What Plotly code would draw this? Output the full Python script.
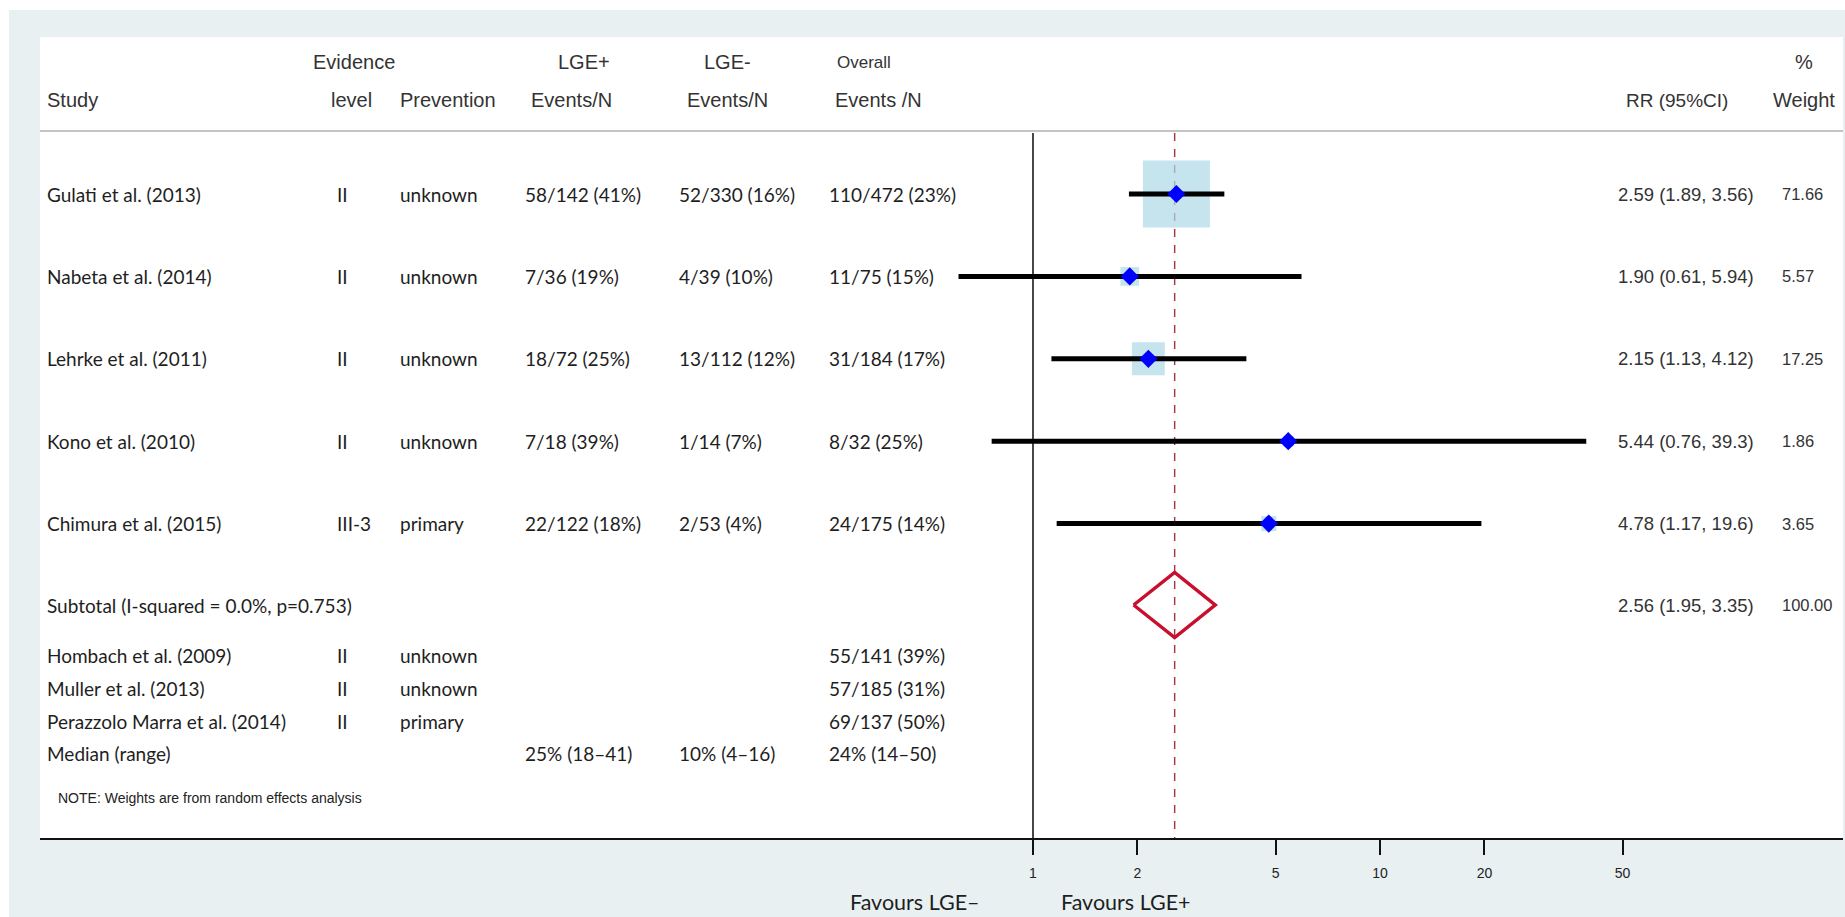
import plotly.graph_objects as go
import math

# ---------------- data ----------------
studies = ["Gulati et al. (2013)", "Nabeta et al. (2014)", "Lehrke et al. (2011)",
           "Kono et al. (2010)", "Chimura et al. (2015)"]
evidence = ["II", "II", "II", "II", "III-3"]
prevention = ["unknown", "unknown", "unknown", "unknown", "primary"]
lge_pos = ["58/142 (41%)", "7/36 (19%)", "18/72 (25%)", "7/18 (39%)", "22/122 (18%)"]
lge_neg = ["52/330 (16%)", "4/39 (10%)", "13/112 (12%)", "1/14 (7%)", "2/53 (4%)"]
overall = ["110/472 (23%)", "11/75 (15%)", "31/184 (17%)", "8/32 (25%)", "24/175 (14%)"]
rr = [2.59, 1.90, 2.15, 5.44, 4.78]
rr_lo = [1.89, 0.61, 1.13, 0.76, 1.17]
rr_hi = [3.56, 5.94, 4.12, 39.3, 19.6]
weights = [71.66, 5.57, 17.25, 1.86, 3.65]

pooled_label = "Subtotal (I-squared = 0.0%, p=0.753)"
pooled = 2.56
pooled_lo = 1.95
pooled_hi = 3.35
pooled_weight = 100.00

extra_studies = ["Hombach et al. (2009)", "Muller et al. (2013)", "Perazzolo Marra et al. (2014)"]
extra_evidence = ["II", "II", "II"]
extra_prevention = ["unknown", "unknown", "primary"]
extra_overall = ["55/141 (39%)", "57/185 (31%)", "69/137 (50%)"]

median_label = "Median (range)"
median_pos = "25% (18–41)"
median_neg = "10% (4–16)"
median_overall = "24% (14–50)"

tick_vals = [1, 2, 5, 10, 20, 50]
tick_text = ["1", "2", "5", "10", "20", "50"]

note_text = "NOTE: Weights are from random effects analysis"
favours_left = "Favours LGE–"
favours_right = "Favours LGE+"

# ---------------- layout constants (pixels) ----------------
W, H = 1845, 917
PANEL_L, PANEL_R, PANEL_T, PANEL_B = 40, 1843, 37, 838
X_ONE = 1033          # pixel of RR = 1
DECADE = 347          # pixels per decade
ROW0, ROW_STEP = 194, 82.4
row_y = [ROW0 + i * ROW_STEP for i in range(len(studies))]
sub_y = ROW0 + len(studies) * ROW_STEP - 1
extra_y = [655, 688, 721]
median_y = 753
note_y = 798
HEAD1_Y, HEAD2_Y, HEADLINE_Y = 62, 100, 131
LINE_TOP = 133

HEAD_FONT = "Liberation Sans, Arial, sans-serif"
BODY_FONT = "Lato, Calibri, sans-serif"
HEAD_COL = "#333333"
BODY_COL = "#1e1e1e"

def px(x):
    return x / W

fig = go.Figure()

# null line and pooled estimate line
fig.add_trace(go.Scatter(x=[1, 1], y=[LINE_TOP, PANEL_B], mode="lines",
                         line=dict(color="#1a1a1a", width=1.6), hoverinfo="skip"))
fig.add_trace(go.Scatter(x=[pooled, pooled], y=[LINE_TOP, PANEL_B], mode="lines",
                         line=dict(color="#a8323e", width=1.4, dash="8px,8px"), hoverinfo="skip"))

# weight boxes (area proportional to weight)
box_sizes = [67 * math.sqrt(w / max(weights)) for w in weights]
fig.add_trace(go.Scatter(x=rr, y=row_y, mode="markers",
                         marker=dict(symbol="square", size=box_sizes, color="#add8e6",
                                     line=dict(width=0)), hoverinfo="skip"))

# CI lines
ci_x, ci_y = [], []
for lo, hi, y in zip(rr_lo, rr_hi, row_y):
    ci_x += [lo, hi, None]
    ci_y += [y, y, None]
fig.add_trace(go.Scatter(x=ci_x, y=ci_y, mode="lines",
                         line=dict(color="black", width=5), hoverinfo="skip"))

# point estimates
fig.add_trace(go.Scatter(x=rr, y=row_y, mode="markers",
                         marker=dict(symbol="diamond", size=14, color="#0000ff",
                                     line=dict(width=0)), hoverinfo="skip"))

# pooled diamond
DH = 32.5
fig.add_trace(go.Scatter(x=[pooled_lo, pooled, pooled_hi, pooled, pooled_lo],
                         y=[sub_y, sub_y - DH, sub_y, sub_y + DH, sub_y],
                         mode="lines", line=dict(color="#c8102e", width=3.5),
                         hoverinfo="skip"))

ann = []

def txt(text, x, y, size, font=BODY_FONT, color=BODY_COL, anchor="left", yref="y"):
    ann.append(dict(text=text, x=px(x), xref="paper", y=y, yref=yref,
                    xanchor=anchor, yanchor="middle", showarrow=False,
                    font=dict(family=font, size=size, color=color)))

# headers
txt("Evidence", 311, HEAD1_Y, 20, HEAD_FONT, HEAD_COL)
txt("LGE+", 612, HEAD1_Y, 20, HEAD_FONT, HEAD_COL, "right")
txt("LGE-", 727, HEAD1_Y, 20, HEAD_FONT, HEAD_COL, "center")
txt("Overall", 864, HEAD1_Y, 17, HEAD_FONT, HEAD_COL, "center")
txt("%", 1804, HEAD1_Y, 20, HEAD_FONT, HEAD_COL, "center")
txt("Study", 45, HEAD2_Y, 20, HEAD_FONT, HEAD_COL)
txt("level", 374, HEAD2_Y, 20, HEAD_FONT, HEAD_COL, "right")
txt("Prevention", 398, HEAD2_Y, 20, HEAD_FONT, HEAD_COL)
txt("Events/N", 614, HEAD2_Y, 20, HEAD_FONT, HEAD_COL, "right")
txt("Events/N", 727, HEAD2_Y, 20, HEAD_FONT, HEAD_COL, "center")
txt("Events /N", 878, HEAD2_Y, 20, HEAD_FONT, HEAD_COL, "center")
txt("RR (95%CI)", 1624, HEAD2_Y, 19, HEAD_FONT, HEAD_COL)
txt("Weight", 1837, HEAD2_Y, 20, HEAD_FONT, HEAD_COL, "right")

def fmt(v):
    return f"{v:.1f}" if v >= 10 else f"{v:.2f}"

EV_X = 335
for i, y in enumerate(row_y):
    txt(studies[i], 45, y, 19)
    txt(evidence[i], EV_X, y, 19)
    txt(prevention[i], 398, y, 19)
    txt(lge_pos[i], 523, y, 19)
    txt(lge_neg[i], 677, y, 19)
    txt(overall[i], 827, y, 19)
    txt(f"{fmt(rr[i])} ({fmt(rr_lo[i])}, {fmt(rr_hi[i])})", 1616, y, 18.5, HEAD_FONT, HEAD_COL)
    txt(f"{weights[i]:.2f}", 1780, y, 16.5, HEAD_FONT, HEAD_COL)

txt(pooled_label, 45, sub_y, 19)
txt(f"{fmt(pooled)} ({fmt(pooled_lo)}, {fmt(pooled_hi)})", 1616, sub_y, 18.5, HEAD_FONT, HEAD_COL)
txt(f"{pooled_weight:.2f}", 1780, sub_y, 16.5, HEAD_FONT, HEAD_COL)

for i, y in enumerate(extra_y):
    txt(extra_studies[i], 45, y, 19)
    txt(extra_evidence[i], EV_X, y, 19)
    txt(extra_prevention[i], 398, y, 19)
    txt(extra_overall[i], 827, y, 19)

txt(median_label, 45, median_y, 19)
txt(median_pos, 523, median_y, 19)
txt(median_neg, 677, median_y, 19)
txt(median_overall, 827, median_y, 19)

txt(note_text, 56, note_y, 14, HEAD_FONT, "#222222")

txt(favours_left, 982, (H - 902) / H, 21.5, anchor="right", yref="paper")
txt(favours_right, 1059, (H - 902) / H, 21.5, anchor="left", yref="paper")

shapes = [
    # outer white frame strips
    dict(type="rect", xref="paper", yref="paper", x0=0, x1=px(9), y0=0, y1=1,
         fillcolor="white", line=dict(width=0), layer="below"),
    dict(type="rect", xref="paper", yref="paper", x0=0, x1=1, y0=1 - 10 / H, y1=1,
         fillcolor="white", line=dict(width=0), layer="below"),
    # header separator
    dict(type="line", xref="paper", yref="y", x0=px(PANEL_L), x1=px(PANEL_R),
         y0=HEADLINE_Y, y1=HEADLINE_Y, line=dict(color="#c4c4c4", width=2)),
]

x_left = (PANEL_L - X_ONE) / DECADE
x_right = (PANEL_R - X_ONE) / DECADE

fig.update_layout(
    width=W, height=H, autosize=False,
    margin=dict(l=0, r=0, t=0, b=0, pad=0),
    paper_bgcolor="#e8f0f2", plot_bgcolor="white",
    showlegend=False,
    annotations=ann, shapes=shapes,
    xaxis=dict(type="log", range=[x_left, x_right], domain=[px(PANEL_L), px(PANEL_R)],
               showline=True, linecolor="#111111", linewidth=2, mirror=False,
               ticks="outside", ticklen=15, tickwidth=2, tickcolor="#111111",
               ticklabelstandoff=6,
               tickvals=tick_vals, ticktext=tick_text,
               tickfont=dict(family=HEAD_FONT, size=14, color="#222222"),
               showgrid=False, zeroline=False, fixedrange=True),
    yaxis=dict(range=[PANEL_B, PANEL_T], domain=[(H - PANEL_B) / H, (H - PANEL_T) / H],
               visible=False, showgrid=False, zeroline=False, fixedrange=True),
)

fig.write_html("out.html")
